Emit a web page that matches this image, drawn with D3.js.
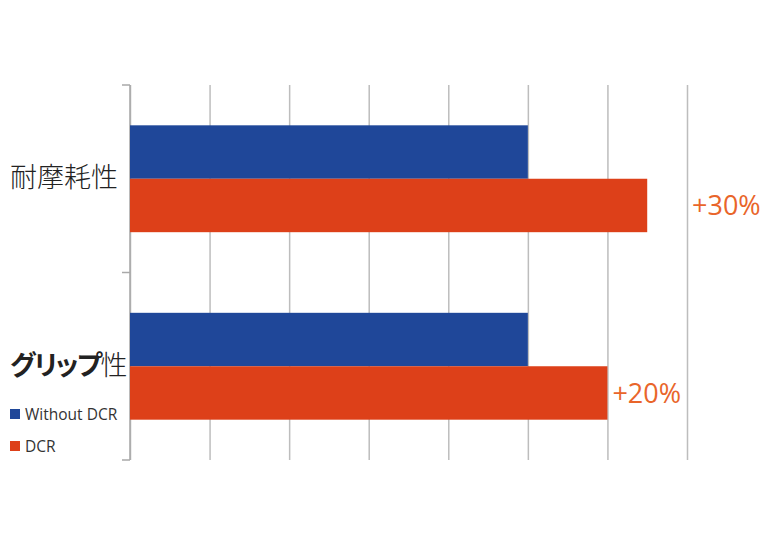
<!DOCTYPE html>
<html lang="ja">
<head>
  <meta charset="UTF-8">
  <title>DCR</title>
  <script src="https://d3js.org/d3.v7.min.js"></script>
  <style>
    body { margin: 0; background: #fff; }
    .gridlines line { stroke: #bdbdbd; stroke-width: 1.5; }
    .gridlines .domain { stroke: none; }
    .y.axis line, .y.axis path { stroke: #a9a9a9; stroke-width: 1.5; }
  </style>
</head>
<body>
  <svg id="chart" width="768" height="541"></svg>
  <script>
    // data
    const categories = ['耐摩耗性', 'グリップ性'];
    const seriesNames = ['Without DCR', 'DCR'];
    const withoutDCR = [5, 5];
    const withDCR = [6.5, 6];
    const gainLabels = ['+30%', '+20%'];
    const xTicks = [0, 1, 2, 3, 4, 5, 6, 7];

    const colors = { 'Without DCR': '#1f4799', 'DCR': '#dd4019' };

    const svg = d3.select('#chart');
    const margins = { top: 85, right: 81, bottom: 81, left: 130 };
    const width = +svg.attr('width');
    const height = +svg.attr('height');
    const chartWidth = width - margins.left - margins.right;
    const chartHeight = height - margins.top - margins.bottom;

    const rows = categories.map((c, i) => ({
      cat: c, values: [withoutDCR[i], withDCR[i]], gain: gainLabels[i]
    }));

    const xScale = d3.scaleLinear().domain([0, 7]).range([0, chartWidth]);
    const yScale = d3.scaleBand().domain(categories).range([0, chartHeight]).padding(0);
    const inner = d3.scaleBand().domain(seriesNames)
      .range([yScale.bandwidth() * 0.215, yScale.bandwidth() * 0.785]).padding(0);

    const chartArea = svg.append('g').attr('transform', `translate(${margins.left},${margins.top})`);

    //vertical gridlines
    chartArea.append('g')
      .attr('class', 'gridlines')
      .call(d3.axisTop(xScale).tickValues(xTicks).tickSize(-chartHeight).tickFormat(''));

    //left axis with ticks at band edges
    const edges = [0, chartHeight / 2, chartHeight];
    const leftG = chartArea.append('g').attr('class', 'y axis');
    leftG.append('line').attr('x1', 0).attr('x2', 0).attr('y1', 0).attr('y2', chartHeight);
    leftG.selectAll('line.tick').data(edges).join('line').attr('class', 'tick')
      .attr('x1', -8).attr('x2', 0).attr('y1', d => d).attr('y2', d => d);

    //bars
    const groups = chartArea.selectAll('g.row').data(rows).join('g')
      .attr('class', 'row')
      .attr('transform', d => `translate(0,${yScale(d.cat)})`);

    groups.selectAll('rect').data(d => d.values.map((v, j) => ({ name: seriesNames[j], v })))
      .join('rect')
      .attr('x', 0)
      .attr('y', d => inner(d.name))
      .attr('width', d => xScale(d.v))
      .attr('height', inner.bandwidth())
      .attr('fill', d => colors[d.name]);

    //gain labels, placed just past the next gridline so they don't cross it
    groups.append('text')
      .attr('x', d => xScale(Math.ceil(d.values[1])) + 5)
      .attr('y', inner('DCR') + inner.bandwidth() / 2)
      .attr('dy', '0.36em')
      .attr('font-family', '"Open Sans", "Noto Sans", sans-serif')
      .attr('font-weight', 400)
      .attr('font-size', '27px')
      .attr('fill', '#e9652a')
      .text(d => d.gain);

    //category labels
    const catText = svg.selectAll('text.cat').data(rows).join('text')
      .attr('class', 'cat')
      .attr('x', 10)
      .attr('y', d => margins.top + yScale(d.cat) + yScale.bandwidth() / 2 - 1)
      .attr('dy', '0.36em')
      .attr('font-family', '"Noto Sans CJK JP", sans-serif')
      .attr('font-size', '27px')
      .attr('fill', '#222');
    catText.filter((d, i) => i === 0)
      .attr('font-weight', 300)
      .text(d => d.cat);
    //katakana part is bolder and proportional in the original
    const grip = catText.filter((d, i) => i === 1);
    grip.append('tspan')
      .attr('font-weight', 700)
      .attr('letter-spacing', '-1.5px')
      .style('font-feature-settings', '"palt"')
      .text(d => d.cat.slice(0, -1));
    grip.append('tspan')
      .attr('font-weight', 300)
      .text(d => d.cat.slice(-1));

    //legend
    const legend = svg.selectAll('g.legend').data(seriesNames).join('g')
      .attr('class', 'legend')
      .attr('transform', (d, i) => `translate(10,${409 + i * 32})`);
    legend.append('rect').attr('width', 10).attr('height', 10).attr('fill', d => colors[d]);
    legend.append('text')
      .attr('x', 15).attr('y', 5).attr('dy', '0.36em')
      .attr('font-family', '"Open Sans", sans-serif')
      .attr('font-size', '15.5px')
      .attr('font-weight', 500)
      .attr('fill', '#333')
      .text(d => d);
  </script>
</body>
</html>
